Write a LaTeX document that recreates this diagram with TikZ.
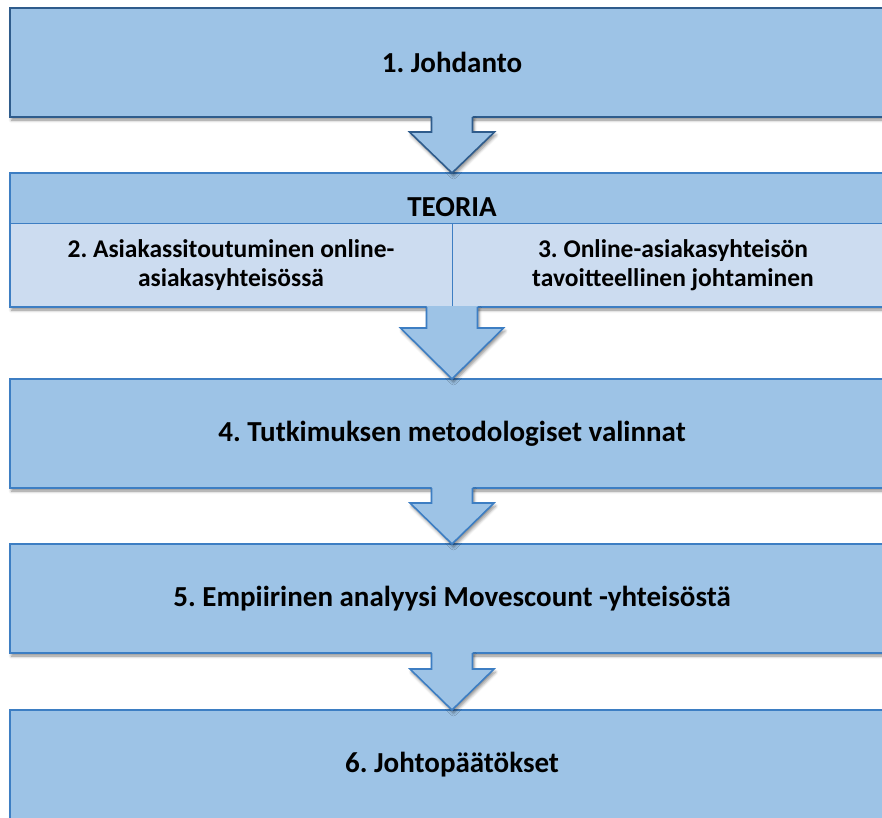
\documentclass[tikz,border=0pt]{standalone}
\usepackage{fontspec}
\setmainfont{Carlito}
\usetikzlibrary{calc,shadows.blur}
\definecolor{boxfill}{HTML}{9DC3E6}
\definecolor{cellfill}{HTML}{CCDCF0}
\definecolor{edgedark}{HTML}{2F5C8C}
\definecolor{edgeblue}{HTML}{3D7EC3}
\frenchspacing

% block arrow from the bottom of #1 down to the top of #2
% #3 half shaft width, #4 half head width, #5 head length, #6 edge colour
\newcommand\blockarrow[6]{%
  \fill[boxfill, softshadow]
    ($(#1.south)+(-#3,-1)$) -- ($(#2.north)+(-#3,-#5)$) -- ($(#2.north)+(-#4,-#5)$)
    -- (#2.north) -- ($(#2.north)+(#4,-#5)$) -- ($(#2.north)+(#3,-#5)$)
    -- ($(#1.south)+(#3,-1)$) -- cycle;
  \draw[#6, line width=1.6pt, line join=miter]
    ($(#1.south)+(-#3,0)$) -- ($(#2.north)+(-#3,-#5)$) -- ($(#2.north)+(-#4,-#5)$)
    -- (#2.north) -- ($(#2.north)+(#4,-#5)$) -- ($(#2.north)+(#3,-#5)$)
    -- ($(#1.south)+(#3,0)$);
}

\begin{document}
\begin{tikzpicture}[x=1pt,y=-1pt,
  softshadow/.style={blur shadow={shadow xshift=1.5pt, shadow yshift=-3pt,
      shadow blur radius=3pt, shadow opacity=45}},
  stage/.style={draw=edgeblue, line width=1.6pt, fill=boxfill,
      minimum width=884pt, minimum height=109pt, inner sep=0pt, outer sep=0pt,
      font=\bfseries\fontsize{29}{32}\selectfont, softshadow},
  cell/.style={draw=edgeblue, line width=0.8pt, fill=cellfill,
      minimum width=442pt, minimum height=84pt, inner sep=0pt, outer sep=0pt,
      align=center, font=\bfseries\fontsize{25.5}{28.5}\selectfont},
  label/.style={font=\bfseries\fontsize{29}{32}\selectfont, inner sep=0pt}]

\useasboundingbox (0,0) rectangle (882,817);
\clip (0,0) rectangle (882,817);

% stage boxes
\node[stage, draw=edgedark] (intro) at (452,62.5) {1. Johdanto};
\node[stage, minimum height=134pt] (theory) at (452,240) {};
\node[stage] (method) at (452,433.5) {4. Tutkimuksen metodologiset valinnat};
\node[stage] (empir) at (452,598.5) {5. Empiirinen analyysi Movescount -yhteisöstä};
\node[stage] (concl) at (452,764.5) {6. Johtopäätökset};

% theory block: heading and two sub-chapters
\node[label] (theoryhead) at (452,207) {TEORIA};
\node[cell] (engage) at (231,265) {2. Asiakassitoutuminen online-\\asiakasyhteisössä};
\node[cell] (lead) at (673,265) {3. Online-asiakasyhteisön\\tavoitteellinen johtaminen};
\draw[edgeblue, line width=1.6pt] (theory.north west) rectangle (theory.south east);

% arrows between the stages
\blockarrow{intro}{theory}{20.5}{42.5}{41}{edgedark}
\blockarrow{theory}{method}{25.5}{51.5}{51}{edgeblue}
\blockarrow{method}{empir}{20.5}{42}{41}{edgeblue}
\blockarrow{empir}{concl}{20.5}{42}{41}{edgeblue}
\end{tikzpicture}
\end{document}
